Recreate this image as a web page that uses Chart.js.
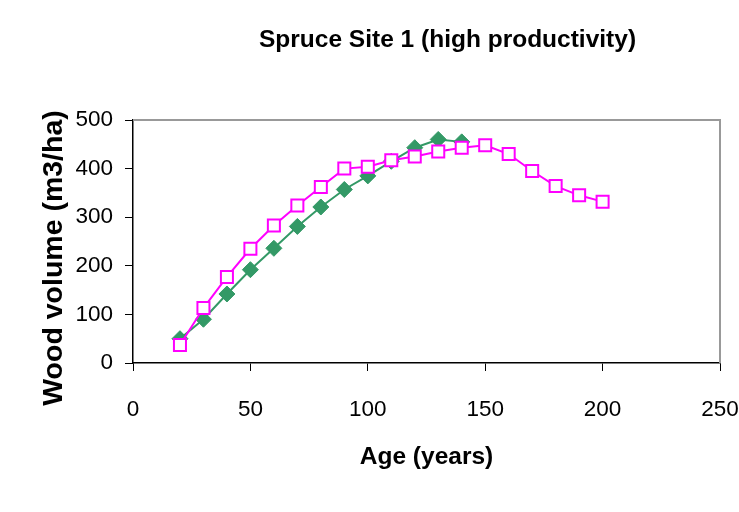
<!DOCTYPE html>
<html>
<head>
<meta charset="utf-8">
<script src="https://cdn.jsdelivr.net/npm/chart.js"></script>
<style>
  body { margin: 0; background: #fff; }
  #wrap { width: 739px; height: 512px; }
</style>
</head>
<body>
<div id="wrap"><canvas id="myChart"></canvas></div>
<script>
// ages (years) and wood volume (m3/ha)
var ages1 = [20, 30, 40, 50, 60, 70, 80, 90, 100, 110, 120, 130, 140];
var volume1 = [50, 90, 142, 192, 236, 281, 321, 357, 385, 415, 443, 460, 455];

var ages2 = [20, 30, 40, 50, 60, 70, 80, 90, 100, 110, 120, 130, 140, 150, 160, 170, 180, 190, 200];
var volume2 = [37, 113, 177, 235, 283, 324, 362, 400, 404, 417, 425, 435, 443, 448, 430, 395, 364, 345, 332];

var xTicks = [0, 50, 100, 150, 200, 250];
var yTicks = [0, 100, 200, 300, 400, 500];

var chartTitle = "Spruce Site 1 (high productivity)";
var yTitle = "Wood volume (m3/ha)";

var fam = "'Liberation Sans', Arial, sans-serif";

function toPoints(xs, ys) {
  return xs.map(function (x, i) { return {x: x, y: ys[i]}; });
}

// grey top + right edge of the plot area
var plotFrame = {
  id: "plotFrame",
  beforeDatasetsDraw: function (chart) {
    var a = chart.chartArea, ctx = chart.ctx;
    ctx.save();
    ctx.strokeStyle = "#999999";
    ctx.lineWidth = 2;
    ctx.beginPath();
    ctx.moveTo(a.left, a.top);
    ctx.lineTo(a.right, a.top);
    ctx.lineTo(a.right, a.bottom);
    ctx.stroke();
    ctx.restore();
  }
};

// chart title and y title sit off-centre in the original, so draw them here
var titles = {
  id: "titles",
  afterDraw: function (chart) {
    var ctx = chart.ctx;
    ctx.save();
    ctx.fillStyle = "#000";
    ctx.textAlign = "center";
    ctx.textBaseline = "middle";
    ctx.font = "bold 24.5px " + fam;
    ctx.fillText(chartTitle, 447.5, 40.7);
    ctx.translate(54, 258);
    ctx.rotate(-Math.PI / 2);
    ctx.font = "bold 28.5px " + fam;
    ctx.fillText(yTitle, 0, 0);
    ctx.restore();
  }
};

new Chart("myChart", {
  type: "line",
  data: {
    datasets: [{
      data: toPoints(ages1, volume1),
      borderColor: "#339966",
      backgroundColor: "#339966",
      borderWidth: 2,
      pointStyle: "rectRot",
      pointRadius: 8,
      pointBorderWidth: 1,
      order: 2
    }, {
      data: toPoints(ages2, volume2),
      borderColor: "#ff00ff",
      backgroundColor: "#ffffff",
      borderWidth: 2,
      pointStyle: "rect",
      pointRadius: 8.5,
      pointBorderWidth: 2,
      order: 1
    }]
  },
  options: {
    responsive: true,
    maintainAspectRatio: false,
    animation: false,
    layout: {padding: {left: 0, right: 19, top: 120, bottom: 0}},
    plugins: {
      legend: {display: false},
      tooltip: {enabled: false},
      title: {display: false}
    },
    scales: {
      x: {
        type: "linear",
        min: 0,
        max: 250,
        afterBuildTicks: function (s) { s.ticks = xTicks.map(function (v) { return {value: v}; }); },
        afterFit: function (s) { s.height = 149; s.paddingLeft = 0; s.paddingRight = 0; },
        grid: {drawOnChartArea: false, drawTicks: true, tickLength: 8, color: "#000"},
        border: {color: "#000", width: 1.5},
        ticks: {color: "#000", font: {family: fam, size: 22.5}, padding: 25, maxRotation: 0},
        title: {
          display: true,
          text: "Age (years)",
          color: "#000",
          font: {family: fam, size: 24.5, weight: "bold"},
          padding: {top: 0, bottom: 40}
        }
      },
      y: {
        min: 0,
        max: 500,
        afterBuildTicks: function (s) { s.ticks = yTicks.map(function (v) { return {value: v}; }); },
        afterFit: function (s) { s.width = 133; s.paddingTop = 0; s.paddingBottom = 0; },
        grid: {drawOnChartArea: false, drawTicks: true, tickLength: 8, color: "#000"},
        border: {color: "#000", width: 1.5},
        ticks: {color: "#000", font: {family: fam, size: 22.5}, padding: 12}
      }
    }
  },
  plugins: [plotFrame, titles]
});
</script>
</body>
</html>
